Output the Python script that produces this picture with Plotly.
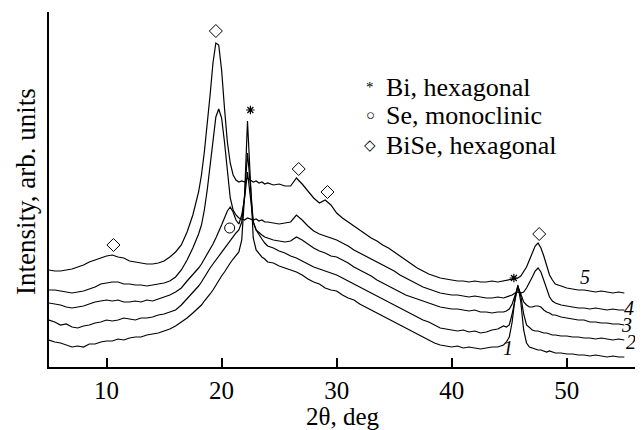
import plotly.graph_objects as go

# 2-theta grid (deg)
two_theta = [
    5, 5.5, 6, 6.5, 7, 7.5, 8, 8.5, 9, 9.5, 10, 10.5, 11, 11.5, 12, 12.5, 13, 13.5,
    14, 14.5, 15, 15.5, 16, 16.5, 17, 17.5,
    18, 18.25, 18.5, 18.75, 19, 19.25, 19.5, 19.75, 20, 20.25, 20.5, 20.75, 21, 21.25,
    21.5, 21.75, 22, 22.25, 22.5, 22.75, 23, 23.25, 23.5, 23.75, 24,
    24.5, 25, 25.5, 26, 26.5, 27, 27.5, 28, 28.5, 29, 29.5, 30, 30.5, 31, 31.5, 32,
    32.5, 33, 33.5, 34, 34.5, 35, 35.5, 36, 36.5, 37, 37.5, 38, 38.5, 39, 39.5, 40,
    40.5, 41, 41.5, 42, 42.5, 43, 43.5, 44, 44.5,
    44.75, 45, 45.25, 45.5, 45.75, 46, 46.25, 46.5, 46.75, 47, 47.25, 47.5, 47.75, 48,
    48.25, 48.5, 48.75,
    49, 49.5, 50, 50.5, 51, 51.5, 52, 52.5, 53, 53.5, 54, 54.5, 55,
]

# Intensities (arb. units), curves stacked with offsets as in the figure
curve_1 = [
    27, 25, 24, 22, 20, 21, 20, 23, 23, 25, 26, 26, 28, 27, 29, 30, 30, 32, 33, 34, 36, 38, 41, 45, 49, 54,
    59, 62, 66, 69, 73, 77, 82, 86, 91, 95, 100, 104, 108, 112, 115, 127, 172, 246, 187, 129, 117, 113, 110, 108, 105,
    104, 101, 99, 97, 95, 92, 88, 85, 83, 79, 77, 76, 72, 69, 67, 63, 60, 57, 54, 51, 48, 45, 42, 39, 36, 33, 30, 27, 24, 22,
    21, 20, 21, 19, 20, 19, 18, 19, 20, 20, 22,
    25, 30, 45, 69, 82, 65, 37, 24, 20, 19, 18, 17, 17, 16, 15, 16, 15,
    14, 14, 13, 13, 12, 12, 11, 12, 11, 10, 11, 10, 10,
]
curve_2 = [
    47, 45, 42, 43, 40, 39, 41, 42, 44, 45, 47, 46, 47, 49, 48, 47, 49, 49, 50, 52, 53, 55, 57, 62, 68, 75,
    81, 85, 90, 95, 99, 103, 107, 111, 115, 119, 123, 127, 131, 134, 137, 145, 172, 214, 182, 145, 137, 132, 128, 124, 121,
    119, 116, 114, 111, 109, 106, 103, 100, 98, 96, 94, 92, 89, 86, 83, 80, 77, 74, 71, 68, 65, 62, 59, 56, 53, 50, 47, 45, 42, 39,
    38, 37, 36, 37, 35, 36, 34, 35, 37, 38, 41,
    40, 42, 53, 69, 81, 71, 53, 42, 39, 37, 36, 36, 35, 34, 34, 33, 32,
    32, 31, 31, 30, 30, 29, 29, 28, 29, 28, 27, 28, 27,
]
curve_3 = [
    64, 63, 62, 60, 59, 60, 61, 63, 65, 66, 67, 66, 67, 65, 65, 66, 65, 67, 66, 68, 70, 72, 75, 79, 86, 92,
    99, 103, 108, 112, 117, 123, 129, 135, 142, 149, 156, 160, 155, 147, 143, 152, 169, 195, 172, 145, 137, 134, 132, 130, 129,
    127, 126, 125, 126, 130, 127, 123, 119, 116, 114, 111, 110, 107, 104, 100, 97, 94, 91, 87, 84, 81, 78, 75, 72, 70, 68, 66, 64, 62, 60,
    59, 58, 58, 57, 56, 57, 55, 55, 54, 55, 55,
    56, 58, 63, 71, 80, 73, 65, 62, 60, 60, 61, 61, 60, 57, 55, 54, 52,
    52, 50, 49, 48, 47, 47, 45, 45, 44, 44, 43, 43, 42,
]
curve_4 = [
    77, 77, 76, 75, 74, 75, 76, 78, 80, 83, 84, 85, 85, 83, 83, 82, 82, 81, 82, 83, 84, 86, 90, 97, 107, 119,
    133, 142, 157, 177, 202, 229, 250, 258, 249, 225, 195, 169, 157, 152, 149, 148, 147, 149, 148, 147, 148, 146, 147, 145, 145,
    144, 143, 144, 145, 152, 147, 141, 136, 133, 131, 129, 127, 124, 121, 117, 114, 111, 108, 105, 102, 99, 96, 92, 89, 86, 83, 80, 78, 76, 74,
    73, 72, 72, 71, 70, 71, 70, 69, 69, 70, 69,
    70, 71, 72, 74, 75, 74, 75, 79, 84, 90, 96, 99, 95, 86, 77, 70, 66,
    64, 62, 61, 60, 59, 59, 58, 59, 58, 57, 58, 57, 57,
]
curve_5 = [
    97, 96, 96, 97, 98, 100, 102, 105, 107, 109, 111, 112, 110, 109, 106, 105, 104, 103, 103, 104, 106, 110, 115, 122, 135, 152,
    175, 192, 215, 242, 272, 304, 324, 322, 297, 259, 225, 204, 192, 187, 185, 186, 185, 189, 187, 185, 186, 184, 185, 183, 184,
    182, 183, 181, 181, 189, 183, 176, 169, 164, 167, 162, 154, 149, 145, 141, 137, 133, 129, 126, 122, 119, 115, 111, 107, 103, 99, 96, 93, 91, 89,
    88, 87, 86, 86, 85, 86, 85, 85, 86, 85, 86,
    87, 87, 88, 88, 89, 91, 95, 100, 107, 115, 121, 124, 119, 111, 101, 92, 87,
    83, 81, 79, 78, 77, 77, 76, 75, 76, 75, 74, 75, 74,
]
curves = [curve_1, curve_2, curve_3, curve_4, curve_5]
curve_names = ["1", "2", "3", "4", "5"]
curve_label_x = [44.9, 55.6, 55.2, 55.4, 51.6]
curve_label_y = [19, 25, 42, 59, 90]

# Phase markers above the peaks
bise_x = [10.6, 19.5, 26.7, 29.2, 47.6]
bise_y = [122, 336, 198, 175, 133]
bi_x = [22.5, 45.4]
bi_y = [257, 89]
se_x = [20.7]
se_y = [139]

legend_symbols = ["*", "\u25CB", "\u25C7"]
legend_texts = ["Bi, hexagonal", "Se, monoclinic", "BiSe, hexagonal"]
legend_y = [280, 252, 222]

x_title = "2\u03b8, deg"
y_title = "Intensity, arb. units"

FONT = "Liberation Serif, Tinos, Times New Roman, Times, Nimbus Roman, DejaVu Serif, serif"

fig = go.Figure()
for name, ys in zip(curve_names, curves):
    fig.add_trace(go.Scatter(x=two_theta, y=ys, mode="lines", name=name,
                             line=dict(color="black", width=1.2), showlegend=False))

fig.add_trace(go.Scatter(x=bise_x, y=bise_y, mode="markers", showlegend=False,
                         marker=dict(symbol="diamond-open", size=10, color="black",
                                     line=dict(width=1))))
fig.add_trace(go.Scatter(x=se_x, y=se_y, mode="markers", showlegend=False,
                         marker=dict(symbol="circle-open", size=10, color="black",
                                     line=dict(width=1))))
fig.add_trace(go.Scatter(x=bi_x, y=bi_y, mode="markers", showlegend=False,
                         marker=dict(symbol="asterisk-open", size=7, color="black",
                                     line=dict(width=1.2))))

for nm, lx, ly in zip(curve_names, curve_label_x, curve_label_y):
    fig.add_annotation(x=lx, y=ly, text=f"<i>{nm}</i>", showarrow=False,
                       font=dict(family=FONT, size=20, color="black"))

for sym, txt, ly in zip(legend_symbols, legend_texts, legend_y):
    fig.add_annotation(x=32.9, y=ly, text=sym, showarrow=False,
                       font=dict(family=FONT, size=15, color="black"))
    fig.add_annotation(x=34.1, y=ly, text=txt, showarrow=False, xanchor="left",
                       font=dict(family=FONT, size=26, color="black"))

# axis titles
fig.add_annotation(xref="paper", yref="paper", x=0.5, y=-0.139, text=x_title,
                   xanchor="center", yanchor="middle",
                   showarrow=False, font=dict(family=FONT, size=25, color="black"))
fig.add_annotation(xref="paper", yref="paper", x=-0.039, y=0.493, text=y_title,
                   xanchor="center", yanchor="middle",
                   textangle=-90, showarrow=False,
                   font=dict(family=FONT, size=27, color="black"))

# the page adds an 8px body margin, so the figure is 8px smaller
fig.update_layout(
    width=635, height=422,
    margin=dict(l=41, r=6, t=4, b=63),
    plot_bgcolor="white", paper_bgcolor="white",
    font=dict(family=FONT, size=25, color="black"),
    xaxis=dict(range=[5, 56.1], tickvals=[10, 20, 30, 40, 50],
               ticks="inside", ticklen=9, tickwidth=1.5, tickcolor="black",
               showline=True, linecolor="black", linewidth=2,
               showgrid=False, zeroline=False, automargin=False,
               tickfont=dict(family=FONT, size=25)),
    yaxis=dict(range=[0, 355], showticklabels=False, ticks="",
               showline=True, linecolor="black", linewidth=2,
               showgrid=False, zeroline=False, automargin=False),
)

fig.write_html("out.html")
